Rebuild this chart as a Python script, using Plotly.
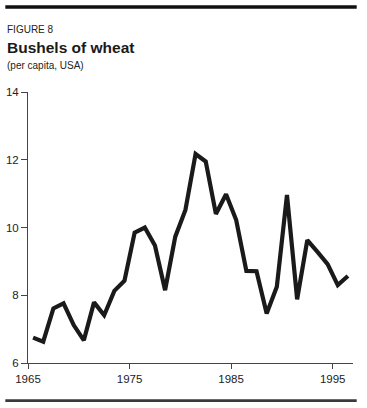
import plotly.graph_objects as go

years = list(range(1965, 1997))
bushels = [6.75, 6.63, 7.61, 7.76, 7.12, 6.67, 7.79, 7.41, 8.13, 8.43,
           9.85, 10.0, 9.47, 8.15, 9.73, 10.52, 12.17, 11.95, 10.40, 10.98,
           10.22, 8.72, 8.71, 7.46, 8.25, 10.96, 7.88, 9.63, 9.28, 8.92,
           8.30, 8.57]
x_ticks = [1965, 1975, 1985, 1995]
y_ticks = [6, 8, 10, 12, 14]

# plot crop years at mid-year
xs = [y + 0.5 for y in years]

FONT = "Liberation Sans, Arial, sans-serif"

fig = go.Figure()
fig.add_trace(go.Scatter(
    x=xs, y=bushels, mode="lines",
    line=dict(color="#1a1a1a", width=4.2),
    hoverinfo="skip", showlegend=False,
))

fig.update_layout(
    width=367, height=408,
    margin=dict(l=28, r=14, t=92, b=45, autoexpand=False),
    paper_bgcolor="white", plot_bgcolor="white",
    font=dict(family=FONT, color="#222222", size=11),
    xaxis=dict(
        range=[1965, 1997], tickvals=x_ticks, ticktext=[str(t) for t in x_ticks],
        showline=True, linecolor="#444444", linewidth=1, automargin=False,
        ticks="outside", ticklen=5, tickcolor="#444444", tickwidth=1,
        showgrid=False, zeroline=False, tickfont=dict(size=11.5, color="#222222"),
    ),
    yaxis=dict(
        range=[6, 14], tickvals=y_ticks, automargin=False,
        showline=True, linecolor="#444444", linewidth=1,
        ticks="outside", ticklen=6, tickcolor="#444444", tickwidth=1,
        showgrid=False, zeroline=False, tickfont=dict(size=11.5, color="#222222"),
    ),
    shapes=[
        dict(type="line", xref="paper", yref="paper",
             x0=-0.0698, x1=1.0114, y0=1.3137, y1=1.3137,
             line=dict(color="#111111", width=3.3)),
        dict(type="line", xref="paper", yref="paper",
             x0=-0.0698, x1=1.0114, y0=-0.1391, y1=-0.1391,
             line=dict(color="#3a3a3a", width=2.7)),
    ],
    annotations=[
        dict(text="FIGURE 8", xref="paper", yref="paper",
             x=-0.0708, y=(363 - 29.5) / 271, xanchor="left", yanchor="middle",
             showarrow=False, font=dict(size=10, color="#222222", family=FONT)),
        dict(text="<b>Bushels of wheat</b>", xref="paper", yref="paper",
             x=-0.0708, y=(363 - 47) / 271, xanchor="left", yanchor="middle",
             showarrow=False, font=dict(size=15.5, color="#1a1a1a", family=FONT)),
        dict(text="(per capita, USA)", xref="paper", yref="paper",
             x=-0.0708, y=(363 - 65) / 271, xanchor="left", yanchor="middle",
             showarrow=False, font=dict(size=10, color="#222222", family=FONT)),
    ],
)

fig.write_html(
    "out.html",
    config={"displayModeBar": False, "staticPlot": True},
    post_script="document.body.style.margin='0px';document.body.style.overflow='hidden';",
)
